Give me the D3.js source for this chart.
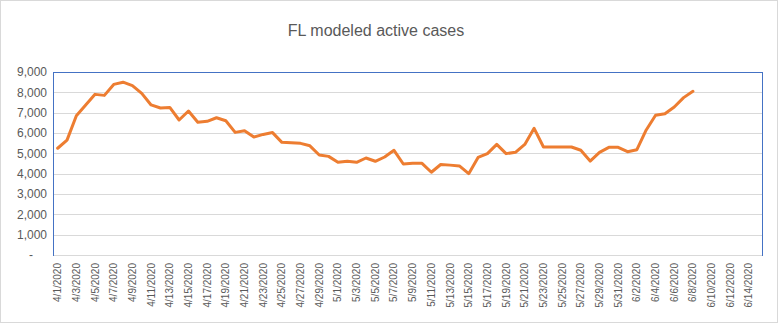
<!DOCTYPE html>
<html>
<head>
<meta charset="utf-8">
<script src="https://cdn.jsdelivr.net/npm/d3@7"></script>
<style>
  body { margin: 0; background: #fff; }
  text { font-family: "Liberation Sans", Arial, sans-serif; fill: #595959; }
</style>
</head>
<body>
<div id="chart"></div>
<script>
const width = 778, height = 324;
const margin = { top: 72, right: 15, bottom: 69, left: 53 };
const innerwidth = width - margin.left - margin.right;
const innerheight = height - margin.top - margin.bottom;

// categories: every day from 4/1/2020 through 6/15/2020
const firstDay = new Date(2020, 3, 1);
const lastDay = new Date(2020, 5, 16);
const days = d3.timeDay.range(firstDay, lastDay);
const fmtDay = d => `${d.getMonth() + 1}/${d.getDate()}/${d.getFullYear()}`;
const categories = days.map(fmtDay);

// modeled active cases, 4/1 .. 6/8
const activeCases = [5250, 5650, 6850, 7380, 7900, 7850, 8390, 8500, 8330, 7950,
  7380, 7230, 7260, 6640, 7080, 6530, 6575, 6750, 6600, 6030,
  6115, 5800, 5930, 6020, 5540, 5525, 5490, 5370, 4920, 4850,
  4560, 4610, 4560, 4770, 4610, 4820, 5150, 4475, 4510, 4510,
  4070, 4450, 4420, 4380, 4000, 4800, 4985, 5440, 4985, 5050,
  5440, 6230, 5310, 5310, 5310, 5310, 5150, 4620, 5050, 5295,
  5295, 5080, 5180, 6150, 6870, 6950, 7280, 7740, 8050];

const yTicks = [0, 1000, 2000, 3000, 4000, 5000, 6000, 7000, 8000, 9000];
const xTickLabels = categories.filter((c, i) => i % 2 === 0);

const svg = d3.select("#chart")
  .append("svg")
  .attr("width", width)
  .attr("height", height);

// chart border
svg.append("rect")
  .attr("x", 0.5).attr("y", 0.5)
  .attr("width", width - 1).attr("height", height - 2)
  .attr("fill", "#fff")
  .attr("stroke", "#d9d9d9");

svg.append("text")
  .text("FL modeled active cases")
  .attr("x", 376)
  .attr("y", 36)
  .attr("text-anchor", "middle")
  .style("font-size", "16px");

const innerChart = svg.append("g")
  .attr("transform", `translate(${margin.left},${margin.top})`);

const xScale = d3.scaleBand().domain(categories).range([0, innerwidth]).padding(0);
const yScale = d3.scaleLinear().domain([0, 9000]).range([innerheight, 0]);

// gridlines
innerChart.selectAll("line.grid")
  .data(yTicks)
  .join("line")
  .attr("class", "grid")
  .attr("x1", 0).attr("x2", innerwidth)
  .attr("y1", d => Math.round(yScale(d)) + 0.5)
  .attr("y2", d => Math.round(yScale(d)) + 0.5)
  .attr("stroke", "#d9d9d9");

// plot area border
innerChart.append("rect")
  .attr("x", 0.5).attr("y", 0.5)
  .attr("width", innerwidth - 1).attr("height", innerheight)
  .attr("fill", "none")
  .attr("stroke", "#4472c4");

// horizontal axis line
innerChart.append("line")
  .attr("x1", 1).attr("x2", innerwidth - 1)
  .attr("y1", innerheight + 0.5).attr("y2", innerheight + 0.5)
  .attr("stroke", "#d9d9d9");

// line
const line = d3.line()
  .x((d, i) => xScale(categories[i]) + xScale.bandwidth() / 2)
  .y(d => yScale(d));

innerChart.append("path")
  .datum(activeCases)
  .attr("d", line)
  .attr("fill", "none")
  .attr("stroke", "#ed7d31")
  .attr("stroke-width", 3)
  .attr("stroke-linejoin", "round")
  .attr("stroke-linecap", "round");

// y axis
const leftAxis = d3.axisLeft(yScale)
  .tickValues(yTicks)
  .tickSize(0)
  .tickPadding(6)
  .tickFormat(d => d === 0 ? "-" : d3.format(",")(d));

const yAxisG = innerChart.append("g").call(leftAxis);
yAxisG.select(".domain").remove();
yAxisG.selectAll("text")
  .style("font-size", "12px")
  .style("font-family", "'Liberation Sans', Arial, sans-serif")
  .attr("fill", "#595959")
  .attr("dx", d => d === 0 ? -14 : 0);

// x axis
const bottomAxis = d3.axisBottom(xScale)
  .tickValues(xTickLabels)
  .tickSize(0)
  .tickPadding(0);

const xAxisG = innerChart.append("g")
  .attr("transform", `translate(0,${innerheight})`)
  .call(bottomAxis);
xAxisG.select(".domain").remove();
xAxisG.selectAll("text")
  .style("font-size", "10px")
  .style("font-family", "'Liberation Sans', Arial, sans-serif")
  .attr("fill", "#595959")
  .attr("text-anchor", "end")
  .attr("transform", "rotate(-90)")
  .attr("x", -8)
  .attr("y", 0)
  .attr("dy", "0.35em");
</script>
</body>
</html>
